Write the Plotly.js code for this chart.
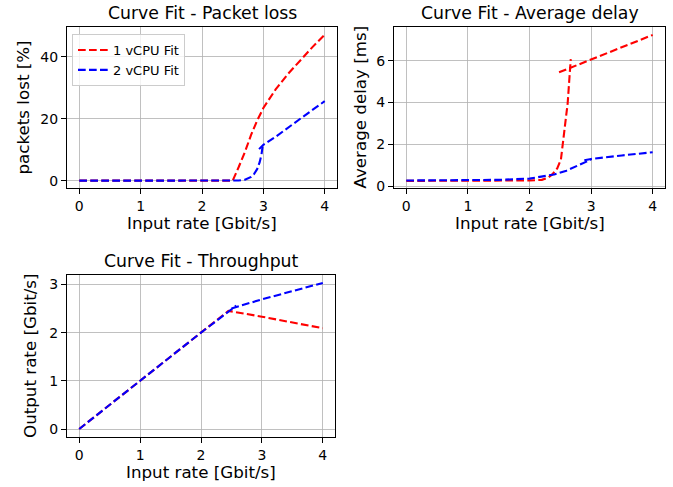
<!DOCTYPE html>
<html>
<head>
<meta charset="utf-8">
<script src="https://cdn.plot.ly/plotly-3.0.1.min.js"></script>
<style>html,body{margin:0;padding:0;background:#fff;}#chart{width:673px;height:487px;}</style>
</head>
<body>
<div id="chart"></div>
<script>
// ---------- Packet loss ----------
const lossX1 = [0, 0.5, 1, 1.5, 2, 2.5, 2.6, 2.7, 2.8, 2.9, 3.0, 3.2, 3.4, 3.6, 3.8, 4.0];
const lossY1 = [0, 0, 0, 0, 0, 0, 4.5, 9.3, 14.8, 19.5, 23.5, 29.5, 34.5, 39, 43.2, 47.2];
const lossX2a = [0, 0.5, 1, 1.5, 2, 2.5, 2.6, 2.7, 2.8, 2.85, 2.9, 2.94, 2.97, 2.99];
const lossY2a = [0, 0, 0, 0, 0, 0, 0.05, 0.3, 1.2, 2.2, 3.8, 6, 8.5, 11.5];
const lossX2b = [2.93, 3.0, 3.2, 3.4, 3.6, 3.8, 4.0];
const lossY2b = [10.2, 11.6, 14.2, 17.2, 20.0, 22.9, 25.7];

// ---------- Average delay ----------
const delayX1a = [0, 0.5, 1, 1.5, 2, 2.2, 2.3, 2.37, 2.45, 2.51, 2.56, 2.62, 2.65, 2.67];
const delayY1a = [0.25, 0.25, 0.25, 0.25, 0.27, 0.3, 0.4, 0.56, 0.85, 1.27, 2.39, 3.98, 5.25, 6.08];
const delayX1b = [2.48, 3.0, 3.5, 4.0];
const delayY1b = [5.45, 6.05, 6.65, 7.24];
const delayX2a = [0, 0.5, 1, 1.5, 2, 2.2, 2.4, 2.6, 2.7, 2.8, 2.9, 2.95, 3.0];
const delayY2a = [0.27, 0.27, 0.28, 0.3, 0.36, 0.45, 0.56, 0.74, 0.87, 1.0, 1.15, 1.22, 1.27];
const delayX2b = [2.89, 3.0, 3.5, 4.0];
const delayY2b = [1.24, 1.3, 1.47, 1.62];

// ---------- Throughput ----------
const thrX1 = [0, 0.5, 1, 1.5, 2, 2.45, 3, 3.5, 4];
const thrY1 = [0, 0.5, 1, 1.5, 2, 2.45, 2.33, 2.21, 2.09];
const thrX2a = [0, 1, 2, 2.58];
const thrY2a = [0, 1, 2, 2.56];
const thrX2b = [2.5, 3, 3.5, 4];
const thrY2b = [2.5, 2.69, 2.86, 3.03];

const xTicks = [0, 1, 2, 3, 4];
const seriesNames = ['1 vCPU Fit', '2 vCPU Fit'];
const titles = ['Curve Fit - Packet loss', 'Curve Fit - Average delay', 'Curve Fit - Throughput'];
const xLabel = 'Input rate [Gbit/s]';
const yLabels = ['packets lost [%]', 'Average delay [ms]', 'Output rate [Gbit/s]'];

function join(xa, ya, xb, yb) {
  return {x: xa.concat([null], xb), y: ya.concat([null], yb)};
}

const RED = '#ff0000', BLUE = '#0000ff';
const DASH = '7.7px,3.3px';
function tr(x, y, color, name, xa, ya, show) {
  return {x: x, y: y, type: 'scatter', mode: 'lines', name: name, legendgroup: name,
    showlegend: show, connectgaps: false, xaxis: xa, yaxis: ya,
    line: {color: color, width: 2.1, dash: DASH}};
}

const l2 = join(lossX2a, lossY2a, lossX2b, lossY2b);
const d1 = join(delayX1a, delayY1a, delayX1b, delayY1b);
const d2 = join(delayX2a, delayY2a, delayX2b, delayY2b);
const t2 = join(thrX2a, thrY2a, thrX2b, thrY2b);

const data = [
  tr(lossX1, lossY1, RED, seriesNames[0], 'x', 'y', true),
  tr(l2.x, l2.y, BLUE, seriesNames[1], 'x', 'y', true),
  tr(d1.x, d1.y, RED, seriesNames[0], 'x2', 'y2', false),
  tr(d2.x, d2.y, BLUE, seriesNames[1], 'x2', 'y2', false),
  tr(thrX1, thrY1, RED, seriesNames[0], 'x3', 'y3', false),
  tr(t2.x, t2.y, BLUE, seriesNames[1], 'x3', 'y3', false)
];

const W = 673, H = 487;
const FONT = 'DejaVu Sans, Arial, sans-serif';
function ax(domain, range, tickvals, anchor) {
  return {domain: domain, range: range, tickvals: tickvals, anchor: anchor,
    showline: true, mirror: true, linecolor: '#000', linewidth: 1,
    ticks: 'outside', ticklen: 5, tickwidth: 1, tickcolor: '#000',
    showgrid: true, gridcolor: '#b0b0b0', gridwidth: 0.8, zeroline: false,
    tickfont: {family: FONT, size: 14, color: '#000'}, fixedrange: true};
}
const px = v => v / W, py = v => 1 - v / H;

// plot boxes in pixels [left, right, top, bottom]
const boxes = [[67, 337, 27, 188], [394, 665, 27, 188], [67, 335, 275, 437]];

const layout = {
  width: W, height: H, margin: {l: 0, r: 0, t: 0, b: 0},
  paper_bgcolor: '#fff', plot_bgcolor: '#fff',
  font: {family: FONT, color: '#000'},
  xaxis: ax([px(67), px(337)], [-0.2, 4.2], xTicks, 'y'),
  yaxis: ax([py(188), py(27)], [-2.37, 49.7], [0, 20, 40], 'x'),
  xaxis2: ax([px(394), px(665)], [-0.2, 4.2], xTicks, 'y2'),
  yaxis2: ax([py(188), py(27)], [-0.09, 7.62], [0, 2, 4, 6], 'x2'),
  xaxis3: ax([px(67), px(335)], [-0.2, 4.2], xTicks, 'y3'),
  yaxis3: ax([py(437), py(275)], [-0.166, 3.195], [0, 1, 2, 3], 'x3'),
  showlegend: true,
  legend: {x: px(72), y: py(34), xanchor: 'left', yanchor: 'top',
    bgcolor: 'rgba(255,255,255,0.8)', bordercolor: '#cccccc', borderwidth: 1,
    font: {family: FONT, size: 13, color: '#000'}, tracegroupgap: 0},
  annotations: []
};

const yLabelX = [23, 360, 30];
boxes.forEach((b, i) => {
  const cx = (b[0] + b[1]) / 2, cy = (b[2] + b[3]) / 2;
  layout.annotations.push({text: titles[i], xref: 'paper', yref: 'paper', x: px(cx), y: py(b[2] - 14),
    xanchor: 'center', yanchor: 'middle', showarrow: false, borderpad: 0,
    font: {family: FONT, size: 17.3, color: '#000'}});
  layout.annotations.push({text: xLabel, xref: 'paper', yref: 'paper', x: px(cx), y: py(b[3] + 35),
    xanchor: 'center', yanchor: 'middle', showarrow: false, borderpad: 0,
    font: {family: FONT, size: 16.7, color: '#000'}});
  layout.annotations.push({text: yLabels[i], xref: 'paper', yref: 'paper', x: px(yLabelX[i]), y: py(cy),
    xanchor: 'center', yanchor: 'middle', textangle: -90, showarrow: false, borderpad: 0,
    font: {family: FONT, size: 16.7, color: '#000'}});
});

Plotly.newPlot('chart', data, layout, {displayModeBar: false, staticPlot: true});
</script>
</body>
</html>
